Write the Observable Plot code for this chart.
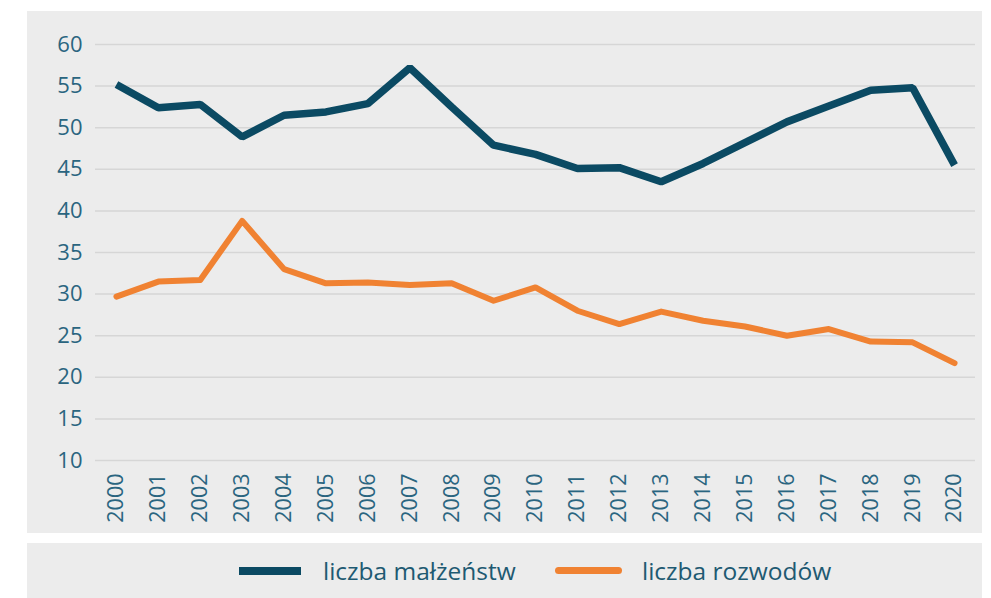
<!DOCTYPE html>
<html><head><meta charset="utf-8">
<script src="https://cdn.jsdelivr.net/npm/d3@7"></script>
<script src="https://cdn.jsdelivr.net/npm/@observablehq/plot@0.6"></script>
<style>
html,body{margin:0;padding:0;background:#fff;}
#wrap{position:relative;width:991px;height:598px;}
#chart{position:absolute;left:27px;top:11px;width:955px;height:522px;background:#ececec;}
#legend{position:absolute;left:27px;top:543px;width:955px;height:55px;background:#ececec;font-family:"Open Sans",sans-serif;font-size:24.5px;color:#1e5a72;}
.item{position:absolute;top:0;height:55px;display:flex;align-items:center;}
.sw{display:inline-block;width:62px;height:8px;margin-right:22px;}
</style></head><body>
<div id="wrap"><div id="chart"></div><div id="legend"></div></div>
<script>
const years = [2000,2001,2002,2003,2004,2005,2006,2007,2008,2009,2010,2011,2012,2013,2014,2015,2016,2017,2018,2019,2020];
const marriages = [55.2,52.4,52.8,48.9,51.5,51.9,52.9,57.2,52.5,47.9,46.8,45.1,45.2,43.5,45.7,48.2,50.7,52.6,54.5,54.8,45.5];
const divorces = [29.7,31.5,31.7,38.8,33.0,31.3,31.4,31.1,31.3,29.2,30.8,28.0,26.4,27.9,26.8,26.1,25.0,25.8,24.3,24.2,21.7];
const seriesNames = ["liczba małżeństw","liczba rozwodów"];
const colors = ["#0b4a63","#f08232"];
const yTicks = [10,15,20,25,30,35,40,45,50,55,60];

const data = [];
years.forEach((y,i)=>{
  data.push({year:y, value:marriages[i], series:seriesNames[0]});
  data.push({year:y, value:divorces[i], series:seriesNames[1]});
});

const plot = Plot.plot({
  width:955, height:522,
  marginLeft:68, marginRight:7, marginTop:33, marginBottom:73,
  style:{background:"transparent", fontFamily:"Open Sans", color:"#2a6580"},
  x:{type:"linear", domain:[years[0]-0.5, years[years.length-1]+0.5], label:null},
  y:{domain:[10,60], label:null},
  marks:[
    Plot.ruleY(yTicks,{stroke:"#d6d6d6", strokeWidth:1.5}),
    Plot.axisY({ticks:yTicks, tickSize:0, tickPadding:13, fontSize:22, fill:"#2a6580", label:null}),
    Plot.axisX({ticks:years, tickFormat:d=>String(d), tickSize:0, tickRotate:-90, tickPadding:13, fontSize:21.5, fill:"#2a6580", label:null}),
    Plot.line(data.filter(d=>d.series===seriesNames[1]),{x:"year", y:"value", stroke:colors[1], strokeWidth:6, strokeLinejoin:"round", strokeLinecap:"round"}),
    Plot.line(data.filter(d=>d.series===seriesNames[0]),{x:"year", y:"value", stroke:colors[0], strokeWidth:7.5, strokeLinejoin:"miter", strokeLinecap:"butt"})
  ]
});
document.getElementById("chart").appendChild(plot);

const leg = document.getElementById("legend");
const lefts = [212, 528];
seriesNames.forEach((n,i)=>{
  const it = document.createElement("div");
  it.className="item"; it.style.left = lefts[i]+"px";
  const sw = document.createElement("span");
  sw.className="sw"; sw.style.background = colors[i];
  if(i===1){sw.style.height="7px"; sw.style.borderRadius="4px"; sw.style.width="67px"; sw.style.marginRight="20px";}
  it.appendChild(sw);
  const t = document.createElement("span"); t.textContent = n;
  it.appendChild(t);
  leg.appendChild(it);
});
</script>
</body></html>
